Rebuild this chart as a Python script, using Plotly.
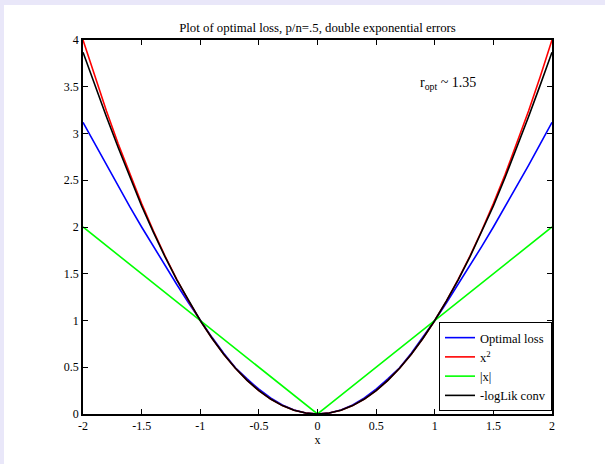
import plotly.graph_objects as go

x_vals = [-2.0, -1.9, -1.8, -1.7, -1.6, -1.5, -1.4, -1.3, -1.2, -1.1, -1.0,
          -0.9, -0.8, -0.7, -0.6, -0.5, -0.4, -0.3, -0.2, -0.1, 0.0,
          0.1, 0.2, 0.3, 0.4, 0.5, 0.6, 0.7, 0.8, 0.9, 1.0,
          1.1, 1.2, 1.3, 1.4, 1.5, 1.6, 1.7, 1.8, 1.9, 2.0]

optimal_loss = [3.12, 2.89, 2.66, 2.435, 2.215, 2.0, 1.79, 1.585, 1.385, 1.19, 1.0,
                0.82, 0.65, 0.495, 0.375, 0.265, 0.172, 0.097, 0.043, 0.011, 0.0,
                0.011, 0.043, 0.097, 0.172, 0.265, 0.375, 0.495, 0.65, 0.82, 1.0,
                1.19, 1.385, 1.585, 1.79, 2.0, 2.215, 2.435, 2.66, 2.89, 3.12]

x_squared = [4.0, 3.61, 3.24, 2.89, 2.56, 2.25, 1.96, 1.69, 1.44, 1.21, 1.0,
             0.81, 0.64, 0.49, 0.36, 0.25, 0.16, 0.09, 0.04, 0.01, 0.0,
             0.01, 0.04, 0.09, 0.16, 0.25, 0.36, 0.49, 0.64, 0.81, 1.0,
             1.21, 1.44, 1.69, 1.96, 2.25, 2.56, 2.89, 3.24, 3.61, 4.0]

abs_x = [2.0, 1.9, 1.8, 1.7, 1.6, 1.5, 1.4, 1.3, 1.2, 1.1, 1.0,
         0.9, 0.8, 0.7, 0.6, 0.5, 0.4, 0.3, 0.2, 0.1, 0.0,
         0.1, 0.2, 0.3, 0.4, 0.5, 0.6, 0.7, 0.8, 0.9, 1.0,
         1.1, 1.2, 1.3, 1.4, 1.5, 1.6, 1.7, 1.8, 1.9, 2.0]

loglik_conv = [3.87, 3.52, 3.18, 2.85, 2.53, 2.225, 1.945, 1.68, 1.435, 1.21, 1.0,
               0.81, 0.64, 0.49, 0.36, 0.25, 0.16, 0.09, 0.04, 0.01, 0.0,
               0.01, 0.04, 0.09, 0.16, 0.25, 0.36, 0.49, 0.64, 0.81, 1.0,
               1.21, 1.435, 1.68, 1.945, 2.225, 2.53, 2.85, 3.18, 3.52, 3.87]

x_ticks = [-2, -1.5, -1, -0.5, 0, 0.5, 1, 1.5, 2]
x_tick_labels = ["-2", "-1.5", "-1", "-0.5", "0", "0.5", "1", "1.5", "2"]
y_ticks = [0, 0.5, 1, 1.5, 2, 2.5, 3, 3.5, 4]
y_tick_labels = ["0", "0.5", "1", "1.5", "2", "2.5", "3", "3.5", "4"]

series = [
    ("Optimal loss", optimal_loss, "#0000ff"),
    ("x<sup>2</sup>", x_squared, "#ff0000"),
    ("|x|", abs_x, "#00ff00"),
    ("-logLik conv", loglik_conv, "#000000"),
]

font_family = "Liberation Serif, Times New Roman, serif"

fig = go.Figure()
for name, vals, color in series:
    fig.add_trace(go.Scatter(x=x_vals, y=vals, mode="lines", name=name,
                             line=dict(color=color, width=1.6)))

axis_common = dict(showline=True, linecolor="black", linewidth=1.5, mirror="ticks",
                   ticks="inside", ticklen=5, tickcolor="black", tickwidth=1,
                   showgrid=False, zeroline=False,
                   tickfont=dict(family=font_family, size=12, color="black"))

fig.update_xaxes(range=[-2, 2], tickvals=x_ticks, ticktext=x_tick_labels,
                 title=dict(text="x", font=dict(family=font_family, size=12, color="black"),
                            standoff=0), ticklabelstandoff=0, **axis_common)
fig.update_yaxes(range=[0, 4], tickvals=y_ticks, ticktext=y_tick_labels,
                 ticklabelstandoff=0, **axis_common)

fig.add_shape(type="rect", xref="paper", yref="paper", x0=-0.1684, x1=1.12,
              y0=-0.14, y1=1.0936, fillcolor="white", line=dict(width=0), layer="below")

fig.add_annotation(x=0.86, y=3.54, xref="x", yref="y", xanchor="left", yanchor="middle",
                   text="r<sub>opt</sub> ~ 1.35", showarrow=False,
                   font=dict(family=font_family, size=14, color="black"))

fig.update_layout(
    width=605, height=464,
    margin=dict(l=83, r=53, t=40, b=50),
    paper_bgcolor="#e9e7f9", plot_bgcolor="white",
    title=dict(text="Plot of optimal loss, p/n=.5, double exponential errors",
               x=0.5, xref="paper", xanchor="center", y=1, yref="paper", yanchor="bottom",
               pad=dict(b=8),
               font=dict(family=font_family, size=12.8, color="black")),
    legend=dict(x=1, xanchor="right", y=0.008, yanchor="bottom",
                bgcolor="white", bordercolor="black", borderwidth=1,
                font=dict(family=font_family, size=12.5, color="black"),
                tracegroupgap=0, itemwidth=30),
    showlegend=True,
)

fig.write_html("out.html", config={"displayModeBar": False},
               post_script="document.body.style.margin='0';")
